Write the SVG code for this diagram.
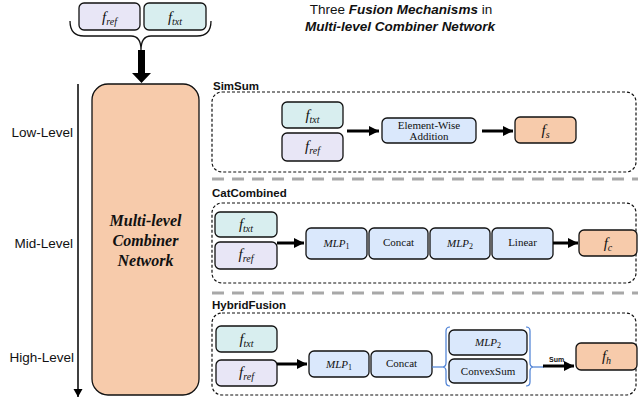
<svg xmlns="http://www.w3.org/2000/svg" width="638" height="402" viewBox="0 0 638 402">
<defs>
<style>
.box{stroke:#111;stroke-width:1.3}
.ref{fill:#e8e6f6}
.txt{fill:#d8eeef}
.blu{fill:#dae8fc}
.out{fill:#f7cbab}
.sec{fill:none;stroke:#111;stroke-width:1.2;stroke-dasharray:3 2}
.sep{stroke:#a8a8a8;stroke-width:3;stroke-dasharray:12 8}
.math{font-family:"Liberation Serif","DejaVu Serif",serif;font-style:italic;font-size:15px;fill:#111}
.sub{font-size:10px}
.ser{font-family:"Liberation Serif","DejaVu Serif",serif;font-size:11px;fill:#111}
.big{font-family:"Liberation Serif","DejaVu Serif",serif;font-size:16px;font-weight:bold;font-style:italic;fill:#111}
.sans{font-family:"Liberation Sans",Arial,sans-serif;fill:#111}
.lvl{font-family:"Liberation Sans",Arial,sans-serif;font-size:13.5px;fill:#111}
.lab{font-family:"Liberation Sans",Arial,sans-serif;font-size:11.5px;font-weight:bold;fill:#111}
.arr{stroke:#000;stroke-width:3;fill:none}
.brk{fill:none;stroke:#4a7fd4;stroke-width:1.2}
</style>
<marker id="ah" markerUnits="userSpaceOnUse" markerWidth="12" markerHeight="12" refX="10" refY="6" orient="auto">
<path d="M0,1 L10,6 L0,11 Z" fill="#000"/>
</marker>
<marker id="ahs" markerUnits="userSpaceOnUse" markerWidth="10" markerHeight="10" refX="8" refY="5" orient="auto">
<path d="M0,0.5 L8,5 L0,9.5 Z" fill="#000"/>
</marker>
</defs>

<!-- Title -->
<g id="title">
<text x="401" y="14" text-anchor="middle" class="sans" font-size="13.5">Three <tspan font-weight="bold" font-style="italic">Fusion Mechanisms</tspan> in</text>
<text x="400" y="31" text-anchor="middle" class="sans" font-size="13.5" font-weight="bold" font-style="italic">Multi-level Combiner Network</text>
</g>

<!-- Top inputs -->
<g id="top-fref">
<rect x="79" y="3" width="61" height="27" rx="5" class="box ref"/>
<text x="109.5" y="22" text-anchor="middle" class="math">f<tspan class="sub" dy="3">ref</tspan></text>
</g>
<g id="top-ftxt">
<rect x="144" y="3" width="62" height="27" rx="5" class="box txt"/>
<text x="175" y="22" text-anchor="middle" class="math">f<tspan class="sub" dy="3">txt</tspan></text>
</g>

<!-- Big network box -->
<g id="network">
<rect x="92" y="84" width="107" height="311" rx="16" class="box out"/>
<text x="145.5" y="226" text-anchor="middle" class="big">Multi-level</text>
<text x="145.5" y="246" text-anchor="middle" class="big">Combiner</text>
<text x="145.5" y="266" text-anchor="middle" class="big">Network</text>
</g>

<!-- Level labels -->
<g id="levels">
<text x="73" y="137" text-anchor="end" class="lvl">Low-Level</text>
<text x="73" y="248" text-anchor="end" class="lvl">Mid-Level</text>
<text x="74" y="362" text-anchor="end" class="lvl">High-Level</text>
</g>

<!-- Separators and section frames -->
<g id="sections">
<line x1="212" y1="179" x2="638" y2="179" class="sep"/>
<line x1="212" y1="293" x2="638" y2="293" class="sep"/>
<text x="213" y="90" class="lab">SimSum</text>
<rect x="212" y="92" width="424" height="80" rx="10" class="sec"/>
<text x="212" y="197" class="lab">CatCombined</text>
<rect x="212" y="203" width="424" height="80" rx="10" class="sec"/>
<text x="212" y="309" class="lab">HybridFusion</text>
<rect x="212" y="313" width="424" height="82" rx="10" class="sec"/>
</g>

<!-- SimSum nodes -->
<g id="s-ftxt">
<rect x="282" y="102" width="61" height="26" rx="5" class="box txt"/>
<text x="312.5" y="120" text-anchor="middle" class="math">f<tspan class="sub" dy="3">txt</tspan></text>
</g>
<g id="s-fref">
<rect x="282" y="133" width="61" height="28" rx="5" class="box ref"/>
<text x="312.5" y="151" text-anchor="middle" class="math">f<tspan class="sub" dy="3">ref</tspan></text>
</g>
<g id="s-add">
<rect x="382" y="118" width="94" height="25" rx="5" class="box blu"/>
<text x="429" y="129" text-anchor="middle" class="ser" font-size="11.5">Element-Wise</text>
<text x="429" y="140" text-anchor="middle" class="ser" font-size="11.5">Addition</text>
</g>
<g id="s-fs">
<rect x="515" y="117" width="61" height="26" rx="5" class="box out"/>
<text x="545.5" y="135" text-anchor="middle" class="math">f<tspan class="sub" dy="3">s</tspan></text>
</g>

<!-- CatCombined nodes -->
<g id="c-ftxt">
<rect x="215" y="212" width="62" height="25" rx="5" class="box txt"/>
<text x="246" y="229" text-anchor="middle" class="math">f<tspan class="sub" dy="3">txt</tspan></text>
</g>
<g id="c-fref">
<rect x="215" y="242" width="62" height="27" rx="5" class="box ref"/>
<text x="246" y="259" text-anchor="middle" class="math">f<tspan class="sub" dy="3">ref</tspan></text>
</g>
<g id="c-mlp1">
<rect x="306" y="228" width="61" height="31" rx="5" class="box blu"/>
<text x="336.5" y="247" text-anchor="middle" class="ser" font-style="italic">MLP<tspan font-style="normal" font-size="8" dy="2">1</tspan></text>
</g>
<g id="c-concat">
<rect x="369" y="228" width="59" height="31" rx="5" class="box blu"/>
<text x="398.5" y="246" text-anchor="middle" class="ser">Concat</text>
</g>
<g id="c-mlp2">
<rect x="430" y="228" width="60" height="31" rx="5" class="box blu"/>
<text x="460" y="247" text-anchor="middle" class="ser" font-style="italic">MLP<tspan font-style="normal" font-size="8" dy="2">2</tspan></text>
</g>
<g id="c-linear">
<rect x="492" y="228" width="61" height="31" rx="5" class="box blu"/>
<text x="522.5" y="246" text-anchor="middle" class="ser">Linear</text>
</g>
<g id="c-fc">
<rect x="579" y="230" width="58" height="26" rx="5" class="box out"/>
<text x="608" y="248" text-anchor="middle" class="math">f<tspan class="sub" dy="3">c</tspan></text>
</g>

<!-- HybridFusion nodes -->
<g id="h-ftxt">
<rect x="216" y="326" width="61" height="26" rx="5" class="box txt"/>
<text x="246.5" y="344" text-anchor="middle" class="math">f<tspan class="sub" dy="3">txt</tspan></text>
</g>
<g id="h-fref">
<rect x="216" y="360" width="61" height="26" rx="5" class="box ref"/>
<text x="246.5" y="377" text-anchor="middle" class="math">f<tspan class="sub" dy="3">ref</tspan></text>
</g>
<g id="h-mlp1">
<rect x="309" y="351" width="60" height="26" rx="5" class="box blu"/>
<text x="339" y="368" text-anchor="middle" class="ser" font-style="italic">MLP<tspan font-style="normal" font-size="8" dy="2">1</tspan></text>
</g>
<g id="h-concat">
<rect x="371" y="351" width="61" height="26" rx="5" class="box blu"/>
<text x="401.5" y="367" text-anchor="middle" class="ser">Concat</text>
</g>
<g id="h-mlp2">
<rect x="449" y="330" width="78" height="25" rx="5" class="box blu"/>
<text x="488" y="346" text-anchor="middle" class="ser" font-style="italic">MLP<tspan font-style="normal" font-size="8" dy="2">2</tspan></text>
</g>
<g id="h-convex">
<rect x="449" y="359" width="78" height="24" rx="5" class="box blu"/>
<text x="488" y="375" text-anchor="middle" class="ser">ConvexSum</text>
</g>
<g id="h-fh">
<rect x="576" y="343" width="61" height="27" rx="5" class="box out"/>
<text x="606.5" y="361" text-anchor="middle" class="math">f<tspan class="sub" dy="3">h</tspan></text>
</g>

<!-- Connectors -->
<g id="connectors">
<path d="M70,21 Q70,36 84,36 L131,36 Q141,36 141,50 Q141,36 151,36 L197,36 Q211,36 211,21" fill="none" stroke="#111" stroke-width="1.3"/>
<path d="M138,50 L145,50 L145,73 L151,73 L141.5,83 L132,73 L138,73 Z" fill="#000"/>
<line x1="78" y1="84" x2="78" y2="397" stroke="#000" stroke-width="1.5" marker-end="url(#ahs)"/>
<line x1="347" y1="131" x2="379" y2="131" class="arr" marker-end="url(#ah)"/>
<line x1="482" y1="131" x2="513" y2="131" class="arr" marker-end="url(#ah)"/>
<line x1="277" y1="243" x2="304" y2="243" class="arr" marker-end="url(#ah)"/>
<line x1="553" y1="243" x2="578" y2="243" class="arr" marker-end="url(#ah)"/>
<line x1="277" y1="364" x2="307" y2="364" class="arr" marker-end="url(#ah)"/>
<path d="M450,327 Q446,327 446,331 L446,363 Q446,367 442,367 Q446,367 446,371 L446,382 Q446,386 450,386" class="brk"/>
<line x1="432" y1="367" x2="442" y2="367" class="brk"/>
<path d="M526,327 Q530,327 530,331 L530,363 Q530,367 534,367 Q530,367 530,371 L530,382 Q530,386 526,386" class="brk"/>
<line x1="534" y1="367" x2="544" y2="367" class="brk"/>
<line x1="543" y1="366" x2="574" y2="366" class="arr" marker-end="url(#ah)"/>
<text x="549" y="362" class="sans" font-size="7" font-weight="bold">Sum</text>
</g>
</svg>
